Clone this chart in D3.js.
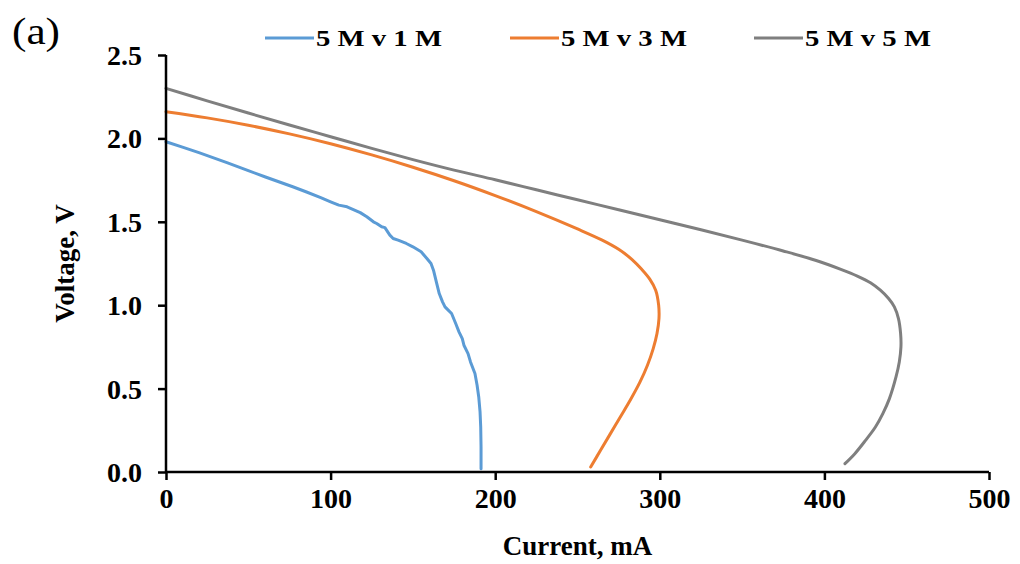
<!DOCTYPE html>
<html>
<head>
<meta charset="utf-8">
<script src="https://cdn.jsdelivr.net/npm/d3@7"></script>
<style>
  html, body { margin: 0; padding: 0; background: #fff; }
  svg { display: block; }
  text { font-family: "Liberation Serif", "Times New Roman", serif; fill: #000; }
</style>
</head>
<body>
<svg id="chart" width="1020" height="564"></svg>
<script>
// ---- data (Current mA, Voltage V) ----
const seriesNames = ["5 M v 1 M", "5 M v 3 M", "5 M v 5 M"];
const seriesColors = ["#5B9BD5", "#ED7D31", "#7F7F7F"];

const current1M = [0,10,20,37,50,60,77,85,94,100,105,110,118,122,126,128,131,133,134,136,138,141,146,150,155,158.5,161,162.5,164.5,166,168,169.5,171,173.5,176,178,180,181,183.5,185,187.7,189,190,190.8,191.2,191.4,191.4];
const voltage1M = [1.98,1.948,1.915,1.855,1.807,1.77,1.71,1.68,1.645,1.62,1.60,1.59,1.555,1.53,1.50,1.49,1.47,1.465,1.45,1.42,1.40,1.39,1.37,1.35,1.32,1.28,1.25,1.21,1.13,1.07,1.02,0.99,0.975,0.95,0.89,0.84,0.80,0.76,0.71,0.66,0.59,0.52,0.45,0.36,0.27,0.15,0.02];

const current3M = [0,25,50,75,100,125,150,175,200,225,250,265,275,283,289,294,297.5,299.3,299.5,298.3,296,292.5,288,282,276,270,264,258];
const voltage3M = [2.16,2.123,2.079,2.027,1.968,1.901,1.827,1.746,1.657,1.561,1.457,1.39,1.335,1.275,1.215,1.155,1.09,1.0,0.92,0.83,0.74,0.64,0.54,0.43,0.33,0.23,0.13,0.03];

const current5M = [0,25,50,75,100,125,150,175,200,225,250,275,300,325,350,375,395,410,420,428,434,439,442.5,445,446.3,446.5,445.5,443.5,439.5,435.5,431,425,418.5,412.5];
const voltage5M = [2.30,2.225,2.152,2.08,2.01,1.94,1.873,1.81,1.752,1.692,1.632,1.572,1.512,1.452,1.39,1.325,1.268,1.215,1.175,1.135,1.09,1.04,0.99,0.92,0.83,0.75,0.66,0.57,0.44,0.35,0.27,0.19,0.11,0.05];

const xTicks = [0, 100, 200, 300, 400, 500];
const yTicks = [0, 0.5, 1.0, 1.5, 2.0, 2.5];
const xTitle = "Current, mA";
const yTitle = "Voltage, V";
const panelLabel = "(a)";

// ---- layout ----
const svg = d3.select("#chart");
const mLeft = 166, mRight = 989, mTop = 55, mBottom = 472;

const x = d3.scaleLinear().domain([0, 500]).range([mLeft, mRight]);
const y = d3.scaleLinear().domain([0, 2.5]).range([mBottom, mTop]);

const series = [
  { name: seriesNames[0], color: seriesColors[0], xs: current1M, ys: voltage1M, curve: d3.curveLinear },
  { name: seriesNames[1], color: seriesColors[1], xs: current3M, ys: voltage3M, curve: d3.curveCatmullRom },
  { name: seriesNames[2], color: seriesColors[2], xs: current5M, ys: voltage5M, curve: d3.curveCatmullRom }
];

// lines
series.forEach(s => {
  const pts = s.xs.map((c, i) => [c, s.ys[i]]);
  const line = d3.line().x(d => x(d[0])).y(d => y(d[1])).curve(s.curve);
  svg.append("path").datum(pts)
    .attr("d", line)
    .attr("fill", "none")
    .attr("stroke", s.color)
    .attr("stroke-width", 3)
    .attr("stroke-linejoin", "round")
    .attr("stroke-linecap", "round");
});

// axes
const xAxis = d3.axisBottom(x).tickValues(xTicks).tickSize(8).tickFormat(d3.format("d"));
const yAxis = d3.axisLeft(y).tickValues(yTicks).tickSize(8).tickFormat(d3.format(".1f"));

const gx = svg.append("g").attr("transform", `translate(0,${mBottom})`).call(xAxis);
const gy = svg.append("g").attr("transform", `translate(${mLeft},0)`).call(yAxis);

[gx, gy].forEach(g => {
  g.select(".domain").attr("stroke", "#000").attr("stroke-width", 2.5);
  g.selectAll(".tick line").attr("stroke", "#000").attr("stroke-width", 2.5);
  g.selectAll(".tick text")
    .attr("font-family", "Liberation Serif, Times New Roman, serif")
    .attr("font-weight", "bold")
    .attr("font-size", 28)
    .attr("fill", "#000");
});
gx.select(".domain").attr("d", `M${mLeft},0H${mRight}`);
gy.select(".domain").attr("d", `M0,${mBottom}V${mTop}`);
gx.selectAll(".tick text").attr("y", 16).attr("dy", "0.71em");
gy.selectAll(".tick text").attr("x", -24).attr("dy", "0.34em");

// axis titles
svg.append("text")
  .attr("x", (mLeft + mRight) / 2).attr("y", 555)
  .attr("text-anchor", "middle")
  .attr("font-weight", "bold").attr("font-size", 27)
  .text(xTitle);

svg.append("text")
  .attr("transform", `translate(74,${(mTop + mBottom) / 2}) rotate(-90)`)
  .attr("text-anchor", "middle")
  .attr("font-weight", "bold").attr("font-size", 27)
  .text(yTitle);

// panel label
svg.append("text")
  .attr("x", 12).attr("y", 44)
  .attr("font-size", 38)
  .attr("textLength", 48).attr("lengthAdjust", "spacingAndGlyphs")
  .text(panelLabel);

// legend
const legendX = [265, 510, 754];
const legendY = 38;
const legend = svg.append("g");
series.forEach((s, i) => {
  const g = legend.append("g").attr("transform", `translate(${legendX[i]},${legendY})`);
  g.append("line").attr("x1", 0).attr("x2", 49).attr("y1", 0).attr("y2", 0)
    .attr("stroke", s.color).attr("stroke-width", 3);
  g.append("text").attr("x", 51).attr("y", 0).attr("dy", "0.34em")
    .attr("font-weight", "bold").attr("font-size", 23)
    .attr("textLength", 126).attr("lengthAdjust", "spacingAndGlyphs")
    .text(s.name);
});
</script>
</body>
</html>
